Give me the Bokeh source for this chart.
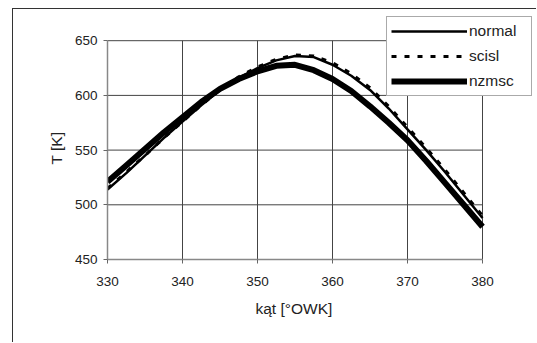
from bokeh.plotting import figure
from bokeh.models import Range1d, FixedTicker, Legend, LegendItem, Title
from bokeh.embed import file_html
from bokeh.resources import INLINE

angle = [330, 332.5, 335, 337.5, 340, 342.5, 345, 347.5, 350, 352.5, 355,
         357.5, 360, 362.5, 365, 367.5, 370, 372.5, 375, 377.5, 380]
normal = [514, 529, 545, 561, 576, 591, 605, 616, 625, 632, 636,
          635, 628, 618, 605, 588, 569, 550, 530, 509, 488]
scisl = [515, 530, 545, 561, 576, 591, 605, 617, 626, 633, 637,
         636, 630, 620, 607, 590, 571, 552, 532, 511, 490]
nzmsc = [521, 536, 551, 566, 580, 594, 606, 615, 622, 627, 628,
         623, 615, 604, 590, 575, 559, 540, 520, 500, 480]

x_ticks = [330, 340, 350, 360, 370, 380]
y_ticks = [450, 500, 550, 600, 650]
x_lo, x_hi = x_ticks[0], x_ticks[-1]
y_lo, y_hi = y_ticks[0], y_ticks[-1]

FONT = "Liberation Sans"
TXT = "#222222"

W, H = 524, 334
LEFT, BOTTOM = 94, 84
px_per_x = 7.5
px_per_y = 1.094
x_max = x_lo + (W - LEFT) / px_per_x
y_max = y_lo + (H - BOTTOM) / px_per_y

p = figure(width=W, height=H, output_backend="svg", toolbar_location=None,
           x_range=Range1d(x_lo, x_max), y_range=Range1d(y_lo, y_max),
           min_border_left=LEFT, min_border_right=0, min_border_top=0,
           min_border_bottom=BOTTOM,
           styles={"margin-left": "12px", "margin-top": "8px",
                   "border-left": "1.5px solid #333333",
                   "border-top": "1.5px solid #333333"})
p.outline_line_color = None
p.background_fill_color = "white"
p.border_fill_color = "white"
p.grid.visible = False

p.xaxis.ticker = FixedTicker(ticks=x_ticks)
p.yaxis.ticker = FixedTicker(ticks=y_ticks)
p.xaxis.bounds = (x_lo, x_hi)
p.yaxis.bounds = (y_lo, y_hi)
for ax in (p.xaxis[0], p.yaxis[0]):
    ax.axis_line_color = "#888888"
    ax.axis_line_width = 1.5
    ax.major_tick_line_color = "#666666"
    ax.major_tick_out = 4
    ax.major_tick_in = 0
    ax.minor_tick_line_color = None
    ax.major_label_text_font = FONT
    ax.major_label_text_font_size = "13.5px"
    ax.major_label_text_color = TXT
p.xaxis.major_label_standoff = 13
p.yaxis.major_label_standoff = 6

# grid lines restricted to the plotted area
p.segment(x0=x_ticks, y0=[y_lo] * len(x_ticks), x1=x_ticks, y1=[y_hi] * len(x_ticks),
          line_color="#444444", line_width=1)
p.segment(x0=[x_lo] * len(y_ticks), y0=y_ticks, x1=[x_hi] * len(y_ticks), y1=y_ticks,
          line_color="#444444", line_width=1)

r1 = p.line(angle, normal, line_color="black", line_width=2.5)
r2 = p.line(angle, scisl, line_color="black", line_width=3, line_dash="5 8")
r3 = p.line(angle, nzmsc, line_color="black", line_width=6)

xlabel = Title(text="kąt [°OWK]", align="left", offset=148,
               text_font=FONT, text_font_size="15.5px", text_font_style="normal",
               text_color=TXT, standoff=19)
p.add_layout(xlabel, "below")
ylabel = Title(text="T [K]", align="left", offset=95,
               text_font=FONT, text_font_size="15.5px", text_font_style="normal",
               text_color=TXT, standoff=13)
p.add_layout(ylabel, "left")

legend = Legend(items=[LegendItem(label="normal", renderers=[r1]),
                       LegendItem(label="scisl", renderers=[r2]),
                       LegendItem(label="nzmsc", renderers=[r3])],
                location=(279, 163), orientation="vertical")
legend.label_text_font = FONT
legend.label_text_font_size = "15.5px"
legend.label_text_color = TXT
legend.glyph_width = 76
legend.glyph_height = 20
legend.label_height = 20
legend.label_width = 58
legend.label_standoff = 2
legend.padding = 4
legend.spacing = 5
legend.margin = 0
legend.border_line_color = "#555555"
legend.border_line_width = 1
legend.background_fill_color = "white"
legend.background_fill_alpha = 1
p.add_layout(legend, "center")

open("out.html", "w").write(file_html(p, INLINE))
